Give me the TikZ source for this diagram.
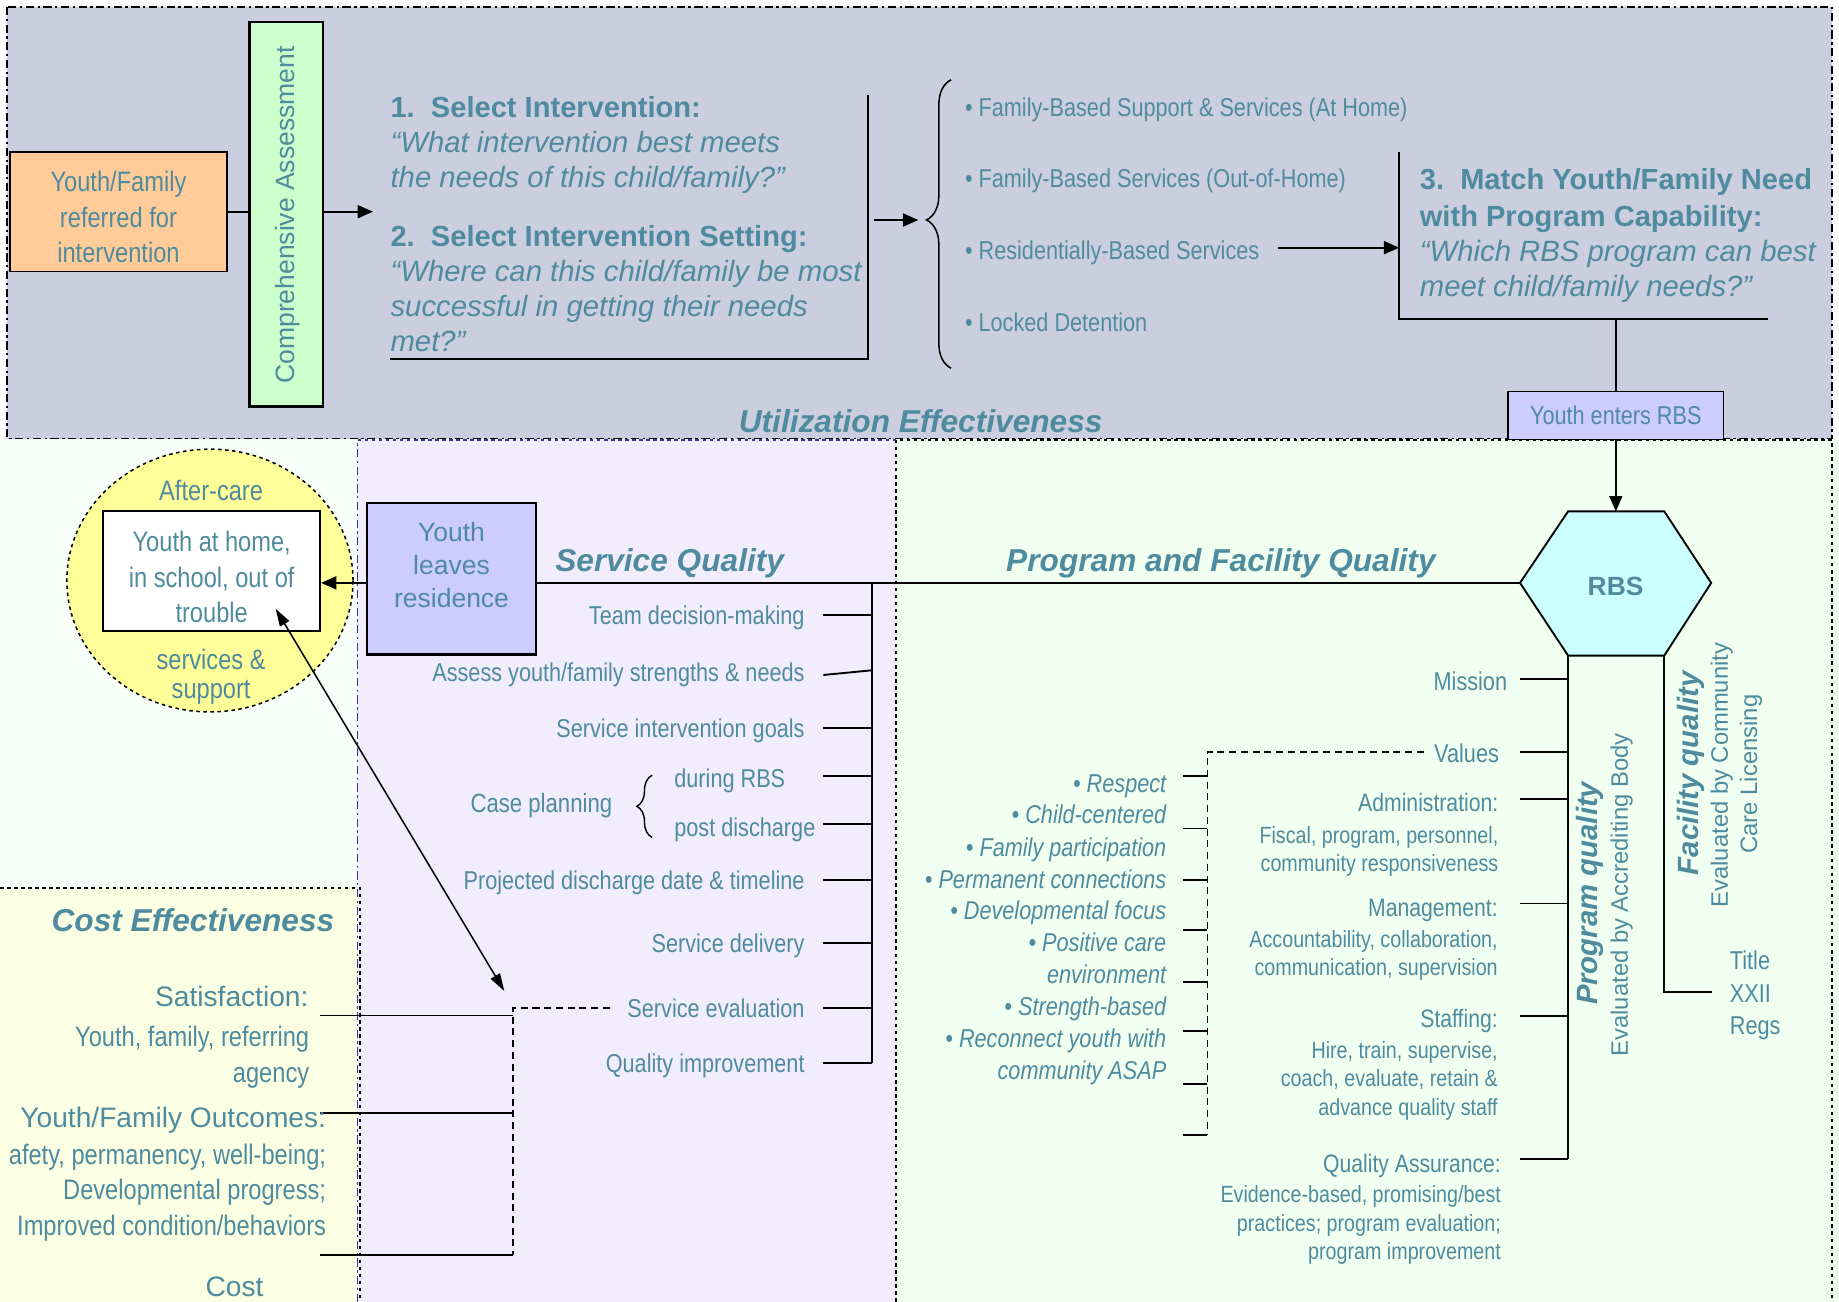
\documentclass[tikz,border=0pt]{standalone}
\usepackage{fontspec}
\setmainfont{Liberation Sans}
\newfontfamily\nar[FakeStretch=0.84]{Liberation Sans}
\usetikzlibrary{arrows.meta,decorations.pathreplacing,calc}
\definecolor{tealtxt}{RGB}{79,139,158}
\definecolor{utilbg}{RGB}{203,206,222}
\definecolor{svcbg}{RGB}{241,237,252}
\definecolor{progbg}{RGB}{240,255,240}
\definecolor{costbg}{RGB}{250,255,228}
\definecolor{leftbg}{RGB}{248,255,250}
\definecolor{peach}{RGB}{255,204,153}
\definecolor{mint}{RGB}{204,255,204}
\definecolor{lilac}{RGB}{204,204,255}
\definecolor{cyanfill}{RGB}{204,255,255}
\definecolor{yellowfill}{RGB}{255,255,153}
\definecolor{navyline}{RGB}{51,51,153}
\tikzset{
  tx/.style={text=tealtxt, inner sep=0pt, outer sep=0pt},
  nr/.style={tx, font=\nar\fontsize{22}{30}\selectfont},
  nrb/.style={tx, font=\nar\fontsize{24}{30}\selectfont},
  nrm/.style={tx, font=\nar\fontsize{21.5}{30}\selectfont},
  nrs/.style={tx, font=\nar\fontsize{20}{24}\selectfont},
  nri/.style={tx, font=\nar\itshape\fontsize{22}{27}\selectfont},
  hd/.style={tx, font=\bfseries\fontsize{24.8}{30}\selectfont},
  qit/.style={tx, font=\itshape\fontsize{25}{30}\selectfont},
  sect/.style={tx, font=\bfseries\itshape\fontsize{27}{30}\selectfont, yshift=-3pt},
  rotb/.style={tx, rotate=90, font=\bfseries\itshape\fontsize{25}{30}\selectfont},
  rotn/.style={tx, rotate=90, font=\fontsize{20.3}{25}\selectfont},
  bignorm/.style={tx, font=\fontsize{24}{30}\selectfont},
  midw/.style={anchor=mid west, yshift=-5.5pt},
  mide/.style={anchor=mid east, yshift=-5.5pt},
  framebox/.style={draw=black, line width=1.5pt, inner sep=0pt},
  ln/.style={draw=black, line width=1.6pt},
  arr/.style={-{Triangle[length=13pt,width=11pt]}},
  dsh/.style={draw=black, line width=1.5pt, dash pattern=on 6pt off 4pt},
}
\begin{document}
\begin{tikzpicture}[x=1pt,y=-1pt]
\useasboundingbox (0,0) rectangle (1568,1110);
% ---------- backgrounds ----------
\fill[white] (0,0) rectangle (1568,1110);
\fill[leftbg] (0,375) rectangle (306,757);
\fill[costbg] (0,757) rectangle (307,1110);
\fill[svcbg] (305,375) rectangle (764,1110);
\fill[progbg] (764,375) rectangle (1568,1110);
\fill[utilbg] (6,6) rectangle (1562,374);
\draw[line width=1.2pt, dash pattern=on 7pt off 3pt on 2pt off 3pt] (6,6) rectangle (1562,374);
\draw[line width=1.2pt, dashed] (764,1110) -- (764,375) -- (1562,375) -- (1562,1110);
\draw[navyline, line width=1.2pt, dash pattern=on 7pt off 3pt on 2pt off 3pt] (305,1110) -- (305,375);
\draw[navyline, line width=1.2pt, dashed] (305,375) -- (764,375);
\draw[line width=1.2pt, dashed] (0,757) -- (307,757) -- (307,1110);

% ---------- top: utilization ----------
\node[framebox, fill=peach, minimum width=185pt, minimum height=102pt] (yf) at (101,180.5) {};
\node[nrb, align=center] (yftxt) at (101,185) {Youth/Family\\referred for\\intervention};
\node[framebox, fill=mint, line width=2pt, minimum width=62.5pt, minimum height=328pt] (ca) at (244,182.7) {};
\node[tx, rotate=90, font=\fontsize{22.6}{26}\selectfont] (catxt) at (245,183.3) {Comprehensive Assessment};
\draw[ln] (yf.east) -- (yf.east -| ca.west);
\coordinate (qin) at (318,180.5);
\draw[ln, arr] (ca.east |- qin) -- (qin);

\node[hd, midw] (q1h) at (333,92.4) {1.\ \ Select Intervention:};
\node[qit, midw] (q1a) at (333,122.2) {“What intervention best meets};
\node[qit, midw] (q1b) at (333,152) {the needs of this child/family?”};
\node[hd, midw] (q2h) at (333,201.8) {2.\ \ Select Intervention Setting:};
\node[qit, midw] (q2a) at (333,231.7) {“Where can this child/family be most};
\node[qit, midw] (q2b) at (333,261.5) {successful in getting their needs};
\node[qit, midw] (q2c) at (333,291.3) {met?”};

\coordinate (qbt) at (740.4,81);
\coordinate (qbb) at (740.4,306.4);
\coordinate (qbl) at (332.6,306.4);
\draw[ln] (qbt) -- (qbb) -- (qbl);
\coordinate (qout) at (745,187.6);
\coordinate (bracetip) at (783,187.6);
\draw[ln, arr] (qout) -- (bracetip);
\draw[line width=1.3pt, decorate, decoration={brace, amplitude=21pt, aspect=0.514}] (811,314) -- (811,68);

\node[nr, midw] (it1) at (822.8,91) {• Family-Based Support \& Services (At Home)};
\node[nr, midw] (it2) at (822.8,152) {• Family-Based Services (Out-of-Home)};
\node[nr, midw] (it3) at (822.8,213) {• Residentially-Based Services};
\node[nr, midw] (it4) at (822.8,274.3) {• Locked Detention};

\coordinate (ra) at (1090,211.2);
\coordinate (b3t) at (1193,129.3);
\coordinate (b3b) at (1193,272.3);
\coordinate (b3r) at (1507.6,272.3);
\draw[ln, arr] (ra) -- (ra -| b3t);
\draw[ln] (b3t) -- (b3b) -- (b3r);
\node[hd, midw] (m1) at (1210.6,153.5) {3.\ \ Match Youth/Family Need};
\node[hd, midw] (m2) at (1210.6,184.8) {with Program Capability:};
\node[qit, midw] (m3) at (1210.6,214.6) {“Which RBS program can best};
\node[qit, midw] (m4) at (1210.6,244.4) {meet child/family needs?”};

\node[framebox, fill=lilac, line width=1.3pt, minimum width=184pt, minimum height=40.6pt, nr] (yer) at (1377.7,354.3) {Youth enters RBS};
\coordinate (b3j) at (1377.7,272.3);
\draw[ln] (b3j) -- (yer.north);

% ---------- RBS hexagon ----------
\coordinate (hTL) at (1337,436);
\coordinate (hTR) at (1419,436);
\coordinate (hR) at (1459,497);
\coordinate (hBR) at (1419,559);
\coordinate (hBL) at (1337,559);
\coordinate (hL) at (1296,497);
\draw[line width=1.6pt, fill=cyanfill] (hTL) -- (hTR) -- (hR) -- (hBR) -- (hBL) -- (hL) -- cycle;
\node[tx, font=\bfseries\fontsize{22.5}{26}\selectfont] (rbs) at (1377.5,500) {RBS};
\draw[line width=1.3pt, arr] (yer.south) -- (yer.south |- hTL);

% ---------- aftercare ----------
\draw[dashed, fill=yellowfill, line width=1.3pt] (179,495) ellipse [x radius=122pt, y radius=112pt];
\node[nrb] (after) at (180,417.8) {After-care};
\node[nrb] (servs) at (180,562) {services \&};
\node[nrb] (supp) at (180,590) {support};
\node[framebox, fill=white, minimum width=185pt, minimum height=102pt] (home) at (180.5,487) {};
\node[nrb, align=center] (hometxt) at (180.5,492) {Youth at home,\\in school, out of\\trouble};

\node[framebox, fill=lilac, line width=2pt, minimum width=144pt, minimum height=129pt] (yl) at (385,493.5) {};
\node[tx, font=\fontsize{22.6}{28}\selectfont, align=center] (yltxt) at (385,481.7) {Youth\\leaves\\residence};

\draw[ln] (hL) -- (hL -| yl.east);
\draw[ln, arr] (yl.west |- hL) -- (hL -| home.east);

% ---------- section labels ----------
\node[sect] (util) at (785,356.5) {Utilization Effectiveness};
\node[sect] (sqlab) at (571,477) {Service Quality};
\node[sect] (pfq) at (1041,477) {Program and Facility Quality};
\node[sect] (ceff) at (164.5,781.5) {Cost Effectiveness};

% ---------- service quality ----------
\coordinate (sqtop) at (743.5,497);
\coordinate (sqbot) at (743.5,906.7);
\draw[ln] (sqtop) -- (sqbot);
\foreach \yy in {524.4,620.5,661.4,702.6,750.3,804.4,859.2,906.7}
  \draw[ln] (702,\yy) -- (743.5,\yy);
\draw[ln] (702,575.5) -- (743.5,571.5);
\node[nr, mide] (sq1) at (686,524.4) {Team decision-making};
\node[nr, mide] (sq2) at (686,573) {Assess youth/family strengths \& needs};
\node[nr, mide] (sq3) at (686,620.5) {Service intervention goals};
\node[tx, font=\nar\fontsize{22.5}{30}\selectfont, mide] (sqcp) at (522,685) {Case planning};
\draw[line width=1.2pt, decorate, decoration={brace, amplitude=13pt}] (556,714) -- (556,661);
\node[nr, midw] (sqd) at (575,663) {during RBS};
\node[nr, midw] (sqp) at (575,705) {post discharge};
\node[nr, mide] (sq5) at (686,750.3) {Projected discharge date \& timeline};
\node[nr, mide] (sq6) at (686,804.4) {Service delivery};
\node[nr, mide] (sq7) at (686,859.2) {Service evaluation};
\node[nr, mide] (sq8) at (686,906.7) {Quality improvement};

% ---------- cost effectiveness ----------
\coordinate (sea) at (520,859.2);
\coordinate (seb) at (437.6,859.2);
\coordinate (sec) at (437.6,1070.4);
\draw[dsh] (sea) -- (seb) -- (sec);
\foreach \yy in {865.8,949.3,1070.4}
  \draw[ln] (272.6,\yy) -- (437.6,\yy);
\node[bignorm, mide] (sat) at (263,850.4) {Satisfaction:};
\node[nrb, mide] (sat1) at (263.6,884) {Youth, family, referring};
\node[nrb, mide] (sat2) at (263.6,915) {agency};
\node[bignorm, mide] (yfo) at (278,953.5) {Youth/Family Outcomes:};
\node[nrb, mide] (yfo1) at (278,985) {afety, permanency, well-being;};
\node[nrb, mide] (yfo2) at (278,1014.7) {Developmental progress;};
\node[nrb, mide] (yfo3) at (278,1045.4) {Improved condition/behaviors};
\node[bignorm] (cost) at (200,1097) {Cost};

\coordinate (dblA) at (235,519);
\coordinate (dblB) at (430,845);
\draw[line width=1.3pt, {Triangle[length=15pt,width=9pt]}-{Triangle[length=15pt,width=9pt]}] (dblA) -- (dblB);

% ---------- program & facility ----------
\coordinate (pqb) at (1337,988.5);
\draw[ln] (hBL) -- (pqb);
\coordinate (fqj) at (1419,845.6);
\coordinate (fqr) at (1459.5,845.6);
\draw[ln] (hBR) -- (fqj) -- (fqr);
\foreach \yy in {579.3,641,681.6,770.3,866,988.5}
  \draw[ln] (1296,\yy) -- (1337,\yy);
\draw[dsh] (1214,641) -- (1029.5,641) -- (1029.5,968);
\foreach \yy in {661.4,706.4,750.3,793,837.6,878.9,924.4,968}
  \draw[ln] (1009,\yy) -- (1029.5,\yy);

\node[nr, mide] (mis) at (1285,581) {Mission};
\node[nr, mide] (val) at (1278,642) {Values};
\node[nrm, mide] (adm) at (1277.5,683.6) {Administration:};
\node[nrs, mide] (adm1) at (1277.5,711) {Fiscal, program, personnel,};
\node[nrs, mide] (adm2) at (1277.5,734.7) {community responsiveness};
\node[nrm, mide] (mgt) at (1277,773) {Management:};
\node[nrs, mide] (mgt1) at (1277,799.5) {Accountability, collaboration,};
\node[nrs, mide] (mgt2) at (1277,823.7) {communication, supervision};
\node[nrm, mide] (stf) at (1277,868.3) {Staffing:};
\node[nrs, mide] (stf1) at (1277,894.5) {Hire, train, supervise,};
\node[nrs, mide] (stf2) at (1277,918.6) {coach, evaluate, retain \&};
\node[nrs, mide] (stf3) at (1277,943) {advance quality staff};
\node[nrm, mide] (qa) at (1279.7,991.4) {Quality Assurance:};
\node[nrs, mide] (qa1) at (1279.7,1017.5) {Evidence-based, promising/best};
\node[nrs, mide] (qa2) at (1279.7,1041.7) {practices; program evaluation;};
\node[nrs, mide] (qa3) at (1279.7,1065.8) {program improvement};

\node[nri, mide] (v1) at (994.4,667.4) {• Respect};
\node[nri, mide] (v2) at (994.4,694) {• Child-centered};
\node[nri, mide] (v3) at (994.4,722) {• Family participation};
\node[nri, mide] (v4) at (994.4,749) {• Permanent connections};
\node[nri, mide] (v5) at (994.4,776) {• Developmental focus};
\node[nri, mide] (v6) at (994.4,803) {• Positive care};
\node[nri, mide] (v7) at (994.4,830) {environment};
\node[nri, mide] (v8) at (994.4,857.5) {• Strength-based};
\node[nri, mide] (v9) at (994.4,885.3) {• Reconnect youth with};
\node[nri, mide] (v10) at (994.4,912.4) {community ASAP};

\node[rotb] (pq) at (1355.8,761.7) {Program quality};
\node[rotn] (pqe) at (1382.7,763) {Evaluated by Accrediting Body};
\node[rotb] (fql) at (1441.8,659.4) {Facility quality};
\node[rotn] (fqe1) at (1468,660.8) {Evaluated by Community};
\node[rotn] (fqe2) at (1493,660) {Care Licensing};
\node[nr, midw] (t1) at (1475,818.6) {Title};
\node[nr, midw] (t2) at (1475,847) {XXII};
\node[nr, midw] (t3) at (1475,874) {Regs};
\end{tikzpicture}
\end{document}
